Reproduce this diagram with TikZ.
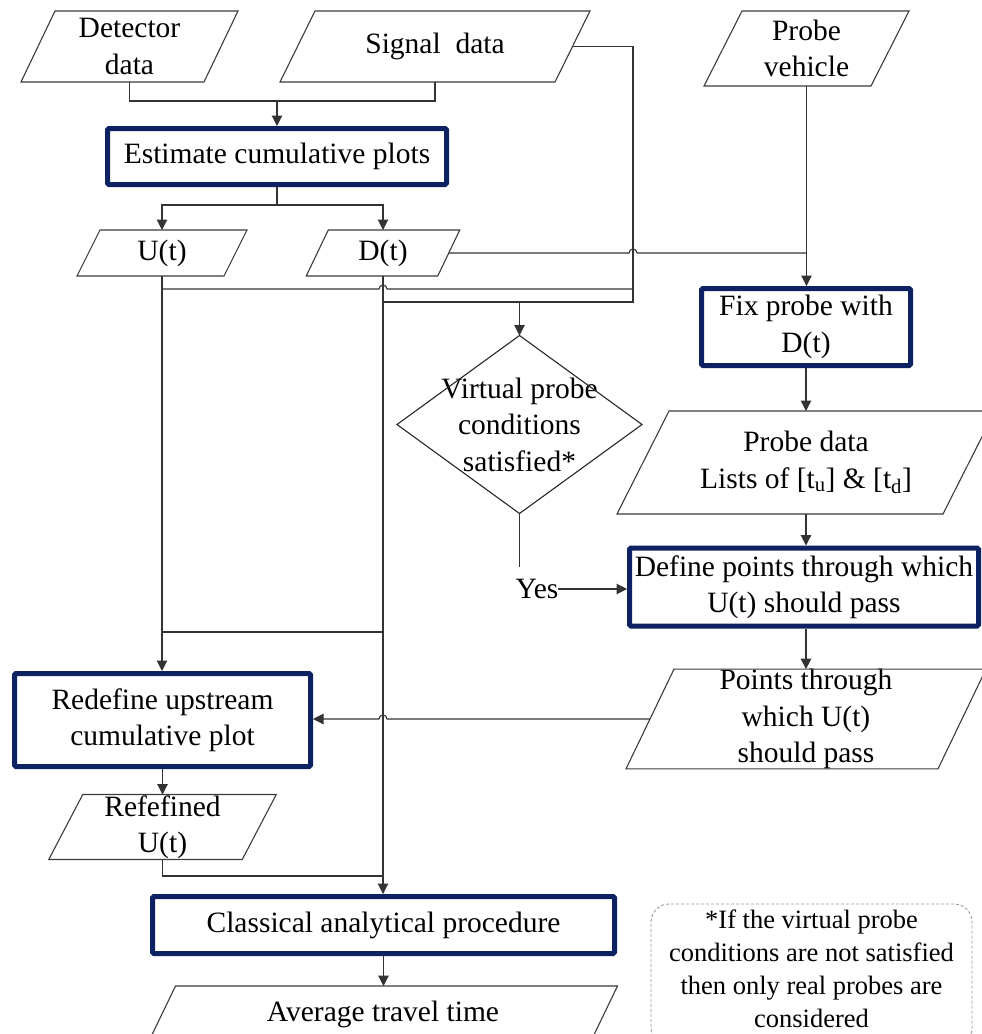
\documentclass[tikz,border=0pt]{standalone}
\usepackage{fontspec}
\setmainfont{Liberation Serif}
\usetikzlibrary{arrows.meta,calc}
\definecolor{navy}{RGB}{12,34,98}
\definecolor{outl}{RGB}{60,60,60}
\newcommand\drawpara[2]{\draw[paraline] ([xshift=-#2pt]#1.south west) -- ([xshift=-#2pt]#1.south east) -- ([xshift=#2pt]#1.north east) -- ([xshift=#2pt]#1.north west) -- cycle;}
\begin{document}
\begin{tikzpicture}[x=1pt,y=-1pt,
  txt/.style={font=\fontsize{29.5}{36.5}\selectfont, align=center, inner sep=0pt, outer sep=0pt},
  proc/.style={txt, draw=navy, line width=5pt, rounded corners=1.5pt, outer sep=2.5pt},
  io/.style={txt},
  paraline/.style={draw=outl, line width=1.1pt},
  conn/.style={draw=black!80, line width=1.1pt},
  arr/.style={conn, -{Triangle[length=10.5pt,width=10.5pt]}},
  notebox/.style={draw=black!40, dashed, dash pattern=on 3pt off 2pt, line width=0.9pt, rounded corners=18pt, inner sep=0pt},
  notetext/.style={font=\fontsize{26.5}{33}\selectfont, align=center, inner sep=0pt},
]
\useasboundingbox (0,0) rectangle (982,1034);
\clip (0,0) rectangle (982,1034);

% input / output parallelograms
\node[io, minimum width=183pt, minimum height=71pt] (det) at (129.5,46.5) {Detector\\data};
\drawpara{det}{17}
\node[io, minimum width=275pt, minimum height=71pt] (sig) at (435,46.5) {Signal\ \ data};
\drawpara{sig}{17.5}
\node[io, minimum width=167pt, minimum height=75pt] (probe) at (806.5,48.5) {Probe\\vehicle};
\drawpara{probe}{19}
\node[io, minimum width=147pt, minimum height=46pt] (U) at (162,253) {U(t)};
\drawpara{U}{11.5}
\node[io, minimum width=131.5pt, minimum height=46pt] (D) at (383,253) {D(t)};
\drawpara{D}{11}
\node[io, minimum width=326pt, minimum height=103pt] (pdata) at (806,462.5) {Probe data\\Lists of [t\textsubscript{u}] \& [t\textsubscript{d}]};
\drawpara{pdata}{26}
\node[io, minimum width=312pt, minimum height=97pt] (pts) at (806,719) {Points through\\which U(t)\\should pass};
\drawpara{pts}{24}
\node[io, minimum width=193.5pt, minimum height=65pt] (ref) at (162.5,827) {Refefined\\U(t)};
\drawpara{ref}{17}
\node[io, minimum width=442pt, minimum height=56pt] (avg) at (383,1014) {Average travel time};
\drawpara{avg}{13.5}

% process boxes
\node[proc, minimum width=339pt, minimum height=56pt] (est) at (277,156.5) {Estimate cumulative plots};
\node[proc, minimum width=209pt, minimum height=77pt] (fix) at (806,327) {Fix probe with\\D(t)};
\node[proc, minimum width=349pt, minimum height=78pt] (def) at (804,587) {Define points through which\\U(t) should pass};
\node[proc, minimum width=296pt, minimum height=93pt] (red) at (162.5,720) {Redefine upstream\\cumulative plot};
\node[proc, minimum width=462pt, minimum height=57pt] (cls) at (383.5,925) {Classical analytical procedure};

% decision
\node[txt, minimum width=245pt, minimum height=178pt] (dia) at (519.5,424.5) {Virtual probe\\conditions\\satisfied*};
\draw[paraline, draw=black!85] (dia.north) -- (dia.east) -- (dia.south) -- (dia.west) -- cycle;
\node[txt] (yes) at (537,589) {Yes};

% note
\node[notebox, minimum width=321pt, minimum height=142pt] (note) at (811.5,975) {};
\node[notetext] (notetxt) at (811.5,968.5) {*If the virtual probe\\conditions are not satisfied\\then only real probes are\\considered};

% helper coordinates
\coordinate (j1) at (277,101);
\coordinate (j2) at (277,205);
\coordinate (sR) at (633,46.5);
\coordinate (sB) at (633,302);
\coordinate (dJ) at (383,302);
\coordinate (vJ) at (519.5,302);
\coordinate (hU) at (162,289);
\coordinate (pJ) at (806.5,253);
\coordinate (mL) at (162,632);
\coordinate (mR) at (383,632);
\coordinate (rR) at (383,876);
\coordinate (dE) at (519.5,567);

% connectors
\draw[conn] (det.south) |- (j1) -| (sig.south);
\draw[arr] (j1) -- (est.north);
\draw[conn] (est.south) -- (j2);
\draw[arr] (j2) -| (U.north);
\draw[arr] (j2) -| (D.north);

\draw[conn] (sig.east) -- (sR) -- (sB) -- (dJ);
\draw[arr] (vJ) -- (dia.north);
\draw[conn] (hU) -- (379,289) arc[start angle=180, end angle=360, radius=4] -- (633,289);
\draw[conn] (D.east) -- (629,253) arc[start angle=180, end angle=360, radius=4] -- (pJ);

\draw[arr] (probe.south) -- (probe.south |- fix.north);
\draw[arr] (fix.south) -- (pdata.north);
\draw[arr] (pdata.south) -- (pdata.south |- def.north);
\draw[arr] (pdata.south |- def.south) -- (pts.north);

\draw[conn] (dia.south) -- (dE);
\draw[arr] (yes.east) -- (yes.east -| def.west);

\draw[arr] (U.south) -- (U.south |- red.north);
\draw[arr] (D.south) -- (D.south |- cls.north);
\draw[conn] (mL) -- (mR);
\draw[arr] (pts.west) -- (387,719) arc[start angle=0, end angle=-180, radius=4] -- (red.east |- pts.west);

\draw[arr] (red.south) -- (red.south |- ref.north);
\draw[conn] (ref.south) |- (rR);
\draw[arr] (cls.south) -- (cls.south |- avg.north);
\end{tikzpicture}
\end{document}
